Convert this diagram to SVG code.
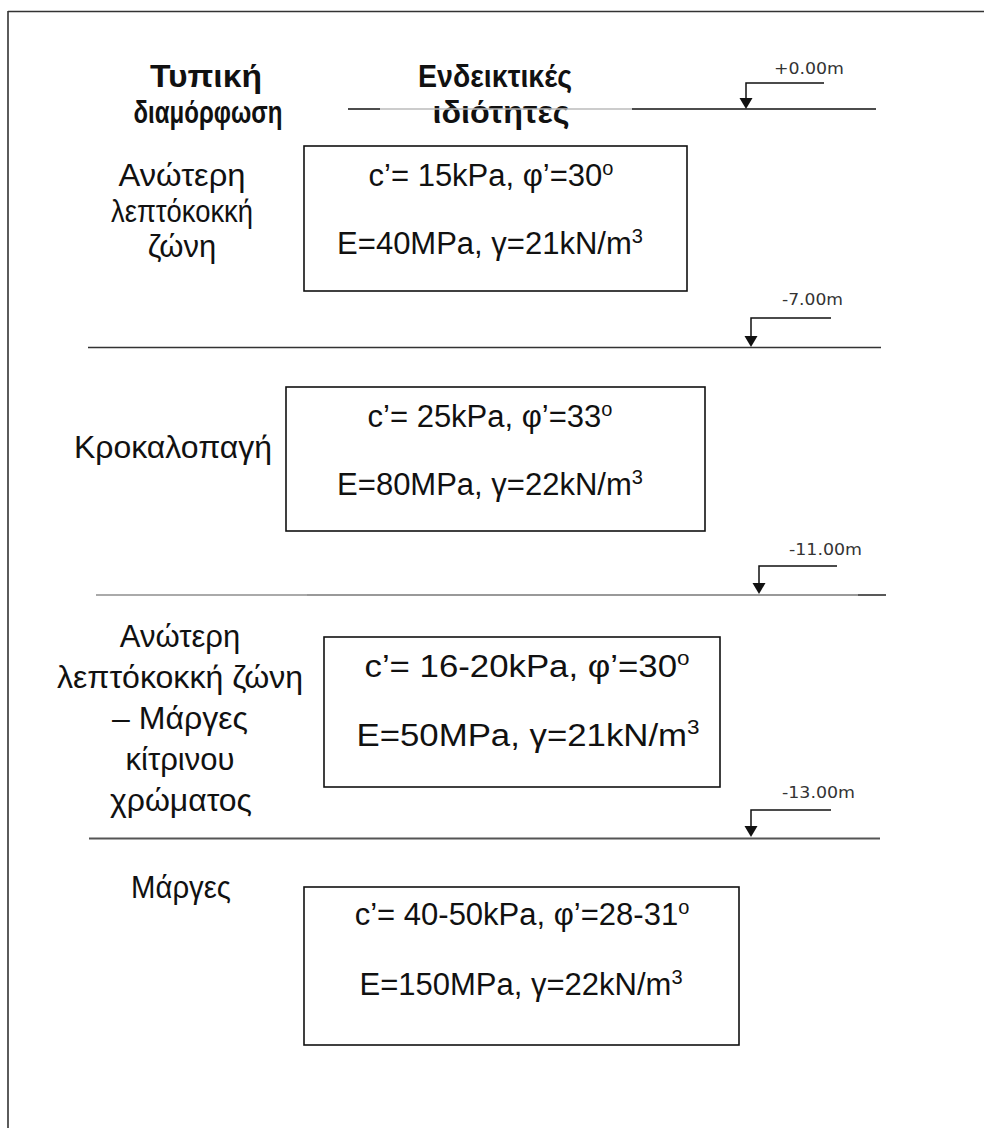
<svg xmlns="http://www.w3.org/2000/svg" width="984" height="1128" viewBox="0 0 984 1128">
<style>
.hdr{font-family:"Liberation Sans Narrow","Liberation Sans",Arial,sans-serif;font-weight:bold;font-size:31px;fill:#111;text-anchor:middle}
.lbl{font-family:"Liberation Sans",Arial,sans-serif;font-size:31px;fill:#111;text-anchor:middle}
.prop{font-family:"Liberation Sans",Arial,sans-serif;font-size:31px;fill:#111;text-anchor:middle}
.sup{font-size:20px}
.lvl{font-family:"DejaVu Sans",Verdana,sans-serif;font-size:16px;fill:#333}
.box{fill:none;stroke:#111;stroke-width:1.6}
.mk{fill:none;stroke:#111;stroke-width:1.5}
.ah{fill:#111}
</style>
<rect width="984" height="1128" fill="#fff"/>
<g id="frame" stroke="#333" stroke-width="1.6">
<line x1="8" y1="11.5" x2="984" y2="11.5"/>
<line x1="8" y1="11" x2="8" y2="1128"/>
</g>
<g id="headers">
<text class="hdr" x="206" y="87" textLength="112" lengthAdjust="spacingAndGlyphs">Τυπική</text>
<text class="hdr" x="208" y="123" textLength="149" lengthAdjust="spacingAndGlyphs">διαμόρφωση</text>
<text class="hdr" x="495" y="87" textLength="154" lengthAdjust="spacingAndGlyphs">Ενδεικτικές</text>
<text class="hdr" x="501" y="123" textLength="137" lengthAdjust="spacingAndGlyphs">ιδιότητες</text>
</g>
<g id="connectors">
<line x1="348" y1="109" x2="380" y2="109" stroke="#111" stroke-width="1.5"/>
<line x1="380" y1="109" x2="632" y2="109" stroke="#bbb" stroke-width="1.5"/>
<line x1="632" y1="109" x2="876" y2="109" stroke="#111" stroke-width="1.5"/>
<line x1="88" y1="347.5" x2="881" y2="347.5" stroke="#333" stroke-width="1.5"/>
<line x1="96" y1="595" x2="307" y2="595" stroke="#aaa" stroke-width="2"/>
<line x1="307" y1="595" x2="858" y2="595" stroke="#999" stroke-width="2"/>
<line x1="858" y1="595" x2="886" y2="595" stroke="#222" stroke-width="1.5"/>
<line x1="89" y1="838.5" x2="880" y2="838.5" stroke="#555" stroke-width="1.8"/>
</g>
<g id="level-0">
<path class="mk" d="M824,83 H746 V100"/>
<path class="ah" d="M739.5,98 L752.5,98 L746,109 Z"/>
<text class="lvl" x="774" y="74" textLength="70" lengthAdjust="spacingAndGlyphs">+0.00m</text>
</g>
<g id="level-7">
<path class="mk" d="M831,318 H751 V338"/>
<path class="ah" d="M744.5,336 L757.5,336 L751,347 Z"/>
<text class="lvl" x="782" y="305" textLength="61" lengthAdjust="spacingAndGlyphs">-7.00m</text>
</g>
<g id="level-11">
<path class="mk" d="M837,566 H759 V585"/>
<path class="ah" d="M752.5,583 L765.5,583 L759,594 Z"/>
<text class="lvl" x="789" y="555" textLength="73" lengthAdjust="spacingAndGlyphs">-11.00m</text>
</g>
<g id="level-13">
<path class="mk" d="M831,810 H751 V828"/>
<path class="ah" d="M744.5,826 L757.5,826 L751,837 Z"/>
<text class="lvl" x="782" y="798" textLength="73" lengthAdjust="spacingAndGlyphs">-13.00m</text>
</g>
<g id="layer1-label">
<text class="lbl" x="182" y="186" textLength="127" lengthAdjust="spacingAndGlyphs">Ανώτερη</text>
<text class="lbl" x="182" y="222" textLength="142" lengthAdjust="spacingAndGlyphs">λεπτόκοκκή</text>
<text class="lbl" x="182" y="257">ζώνη</text>
</g>
<g id="layer1-props">
<rect class="box" x="304" y="146" width="383" height="145"/>
<text class="prop" x="491" y="186">c’= 15kPa, φ’=30<tspan class="sup" dy="-11">o</tspan></text>
<text class="prop" x="490" y="254">E=40MPa, γ=21kN/m<tspan class="sup" dy="-11">3</tspan></text>
</g>
<g id="layer2-label">
<text class="lbl" x="173" y="458" textLength="198" lengthAdjust="spacingAndGlyphs">Κροκαλοπαγή</text>
</g>
<g id="layer2-props">
<rect class="box" x="286" y="387" width="419" height="144"/>
<text class="prop" x="490" y="427">c’= 25kPa, φ’=33<tspan class="sup" dy="-11">o</tspan></text>
<text class="prop" x="490" y="495">E=80MPa, γ=22kN/m<tspan class="sup" dy="-11">3</tspan></text>
</g>
<g id="layer3-label">
<text class="lbl" x="180" y="647">Ανώτερη</text>
<text class="lbl" x="180" y="688" textLength="246" lengthAdjust="spacingAndGlyphs">λεπτόκοκκή ζώνη</text>
<text class="lbl" x="180" y="729" textLength="136" lengthAdjust="spacingAndGlyphs">– Μάργες</text>
<text class="lbl" x="180" y="770">κίτρινου</text>
<text class="lbl" x="181" y="811" textLength="142" lengthAdjust="spacingAndGlyphs">χρώματος</text>
</g>
<g id="layer3-props">
<rect class="box" x="324" y="637" width="396" height="150"/>
<text class="prop" x="527" y="677" font-size="33" textLength="325" lengthAdjust="spacingAndGlyphs">c’= 16-20kPa, φ’=30<tspan class="sup" dy="-12">o</tspan></text>
<text class="prop" x="528" y="746" font-size="33" textLength="343" lengthAdjust="spacingAndGlyphs">E=50MPa, γ=21kN/m<tspan class="sup" dy="-12">3</tspan></text>
</g>
<g id="layer4-label">
<text class="lbl" x="181" y="898" textLength="100" lengthAdjust="spacingAndGlyphs">Μάργες</text>
</g>
<g id="layer4-props">
<rect class="box" x="304" y="887" width="435" height="158"/>
<text class="prop" x="522" y="925">c’= 40-50kPa, φ’=28-31<tspan class="sup" dy="-11">o</tspan></text>
<text class="prop" x="521" y="995">E=150MPa, γ=22kN/m<tspan class="sup" dy="-11">3</tspan></text>
</g>
</svg>
